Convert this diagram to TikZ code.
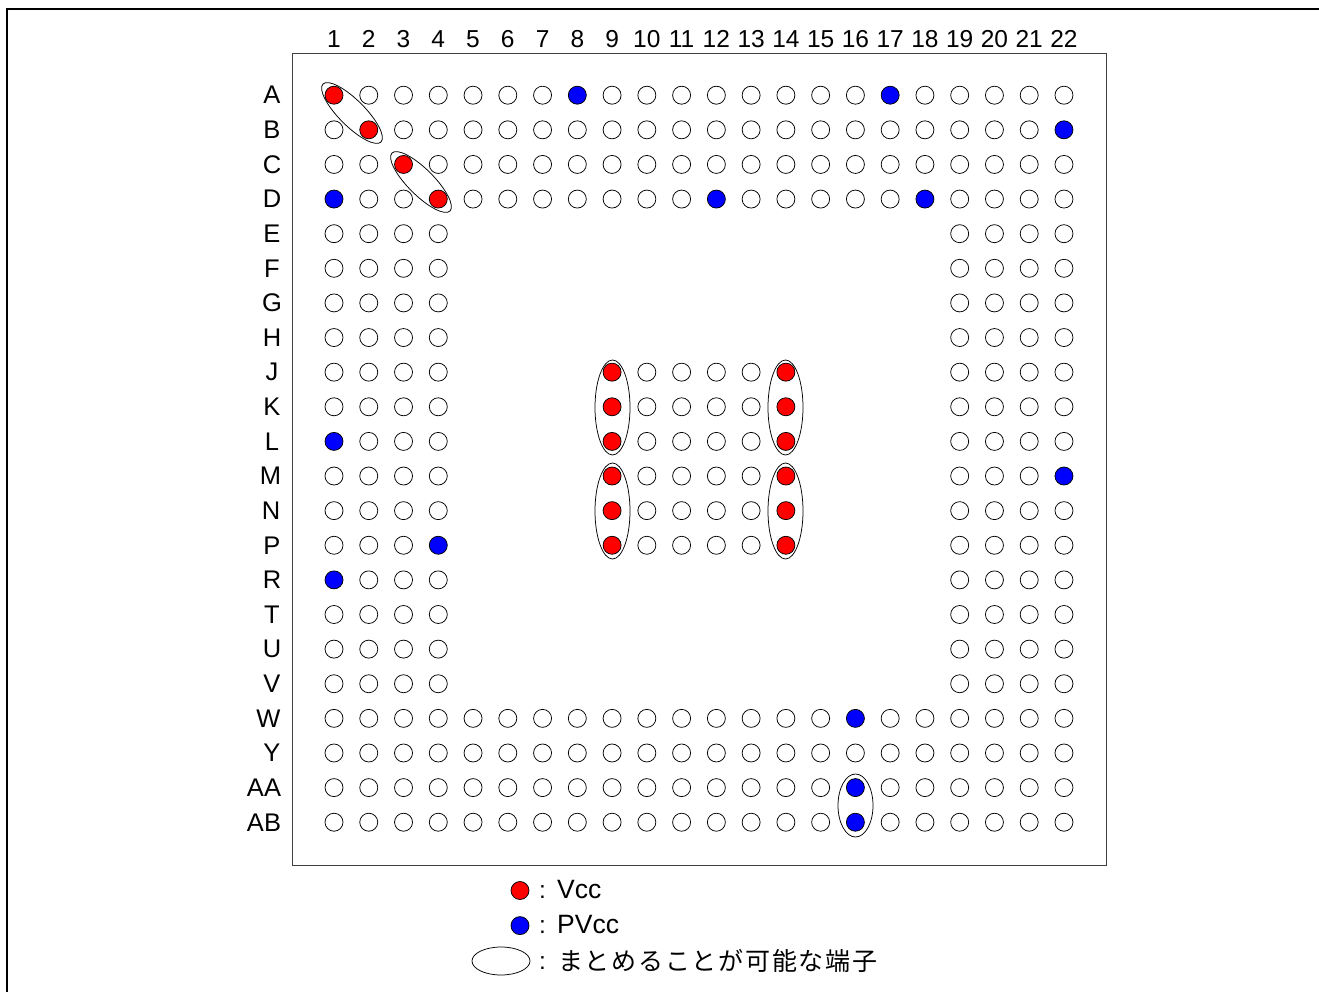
\documentclass[tikz,border=0pt]{standalone}
\usepackage{fontspec}
\setmainfont{Liberation Sans}
\newfontfamily\jpfont[LetterSpace=7]{Noto Sans CJK JP}
\usetikzlibrary{shapes.geometric}
\tikzset{
  x=1pt,y=-1pt,
  pin/.style={circle,draw=black,line width=0.75pt,minimum size=18pt,inner sep=0pt},
  vccpin/.style={pin,fill=red},
  pvccpin/.style={pin,fill=blue},
  group/.style={ellipse,draw=black,line width=0.75pt,inner sep=0pt,fill=none},
  lab/.style={font=\fontsize{24.5}{29}\selectfont,inner sep=0pt},
  rowlab/.style={font=\fontsize{25.5}{30}\selectfont,inner sep=0pt},
  leglab/.style={font=\fontsize{26.5}{31}\selectfont,inner sep=0pt},
}
\begin{document}
\begin{tikzpicture}
\useasboundingbox (0,0) rectangle (1319,992);
\fill[white] (0,0) rectangle (1319,992);
\coordinate (fa) at (1319,9); \coordinate (fb) at (7,9); \coordinate (fc) at (7,992);
\draw[line width=2pt,miter limit=10] (fa) -- (fb) -- (fc);
\node[draw=black!75,line width=1pt,fill=white,inner sep=0pt,minimum width=814pt,minimum height=811pt] (chip) at (699,459.5) {};
% colour tables
\foreach \r/\c in {1/1,2/2,3/3,4/4,9/9,10/9,11/9,12/9,13/9,14/9,9/14,10/14,11/14,12/14,13/14,14/14}
  {\expandafter\gdef\csname pc\r-\c\endcsname{vccpin}}
\foreach \r/\c in {1/8,1/17,2/22,4/1,4/12,4/18,11/1,12/22,14/4,15/1,19/16,21/16,22/16}
  {\expandafter\gdef\csname pc\r-\c\endcsname{pvccpin}}
% pins
\foreach \r in {1,...,22}{
  \foreach \c in {1,...,22}{
    \pgfmathtruncatemacro{\show}{(\r<5||\r>18||\c<5||\c>18||(\r>8&&\r<15&&\c>8&&\c<15))?1:0}
    \ifnum\show=1
      \ifcsname pc\r-\c\endcsname
        \node[\csname pc\r-\c\endcsname] (p\r-\c) at ({334+(\c-1)*34.76},{95.2+(\r-1)*34.62}) {};
      \else
        \node[pin] (p\r-\c) at ({334+(\c-1)*34.76},{95.2+(\r-1)*34.62}) {};
      \fi
    \fi
  }
}
% column labels
\foreach \c in {1,...,22}
  \node[lab] (col\c) at ({334+(\c-1)*34.76},39) {\c};
% row labels
\foreach \t/\r/\dx in {A/1/0,B/2/0,C/3/0,D/4/0,E/5/0,F/6/0,G/7/0,H/8/0,J/9/0,K/10/0,L/11/0,M/12/-1.5,N/13/-1,P/14/0,R/15/0,T/16/0,U/17/0,V/18/0,W/19/-3.5,Y/20/0,AA/21/-8,AB/22/-8}
  \node[rowlab] (row\r) at ({272+\dx},{95.2+(\r-1)*34.62}) {\t};
% grouping ellipses
\node[group,rotate=-45,minimum width=82pt,minimum height=26pt] (g1) at (352,113) {};
\node[group,rotate=-45,minimum width=82pt,minimum height=26pt] (g2) at (421,182) {};
\node[group,minimum width=35pt,minimum height=95pt] (g3) at (612.5,407.5) {};
\node[group,minimum width=35pt,minimum height=95pt] (g4) at (785.5,407.5) {};
\node[group,minimum width=35pt,minimum height=96pt] (g5) at (612.5,511) {};
\node[group,minimum width=35pt,minimum height=96pt] (g6) at (785.5,511) {};
\node[group,minimum width=35pt,minimum height=63pt] (g7) at (855.5,805.5) {};
% legend
\node[vccpin] (lv) at (520,890.5) {};
\node[pvccpin] (lp) at (520,925.6) {};
\node[group,minimum width=58pt,minimum height=28pt] (lg) at (501,961) {};
\node[lab,anchor=base west] (c1) at (539,898) {:};
\node[lab,anchor=base west] (c2) at (539,933) {:};
\node[lab,anchor=base west] (c3) at (539,969) {:};
\node[leglab,anchor=base west] (t1) at (557,898.5) {Vcc};
\node[leglab,anchor=base west] (t2) at (557,933.5) {PVcc};
\node[lab,anchor=base west,font=\fontsize{25}{29}\selectfont\jpfont] (t3) at (558,970) {まとめることが可能な端子};
\end{tikzpicture}
\end{document}
